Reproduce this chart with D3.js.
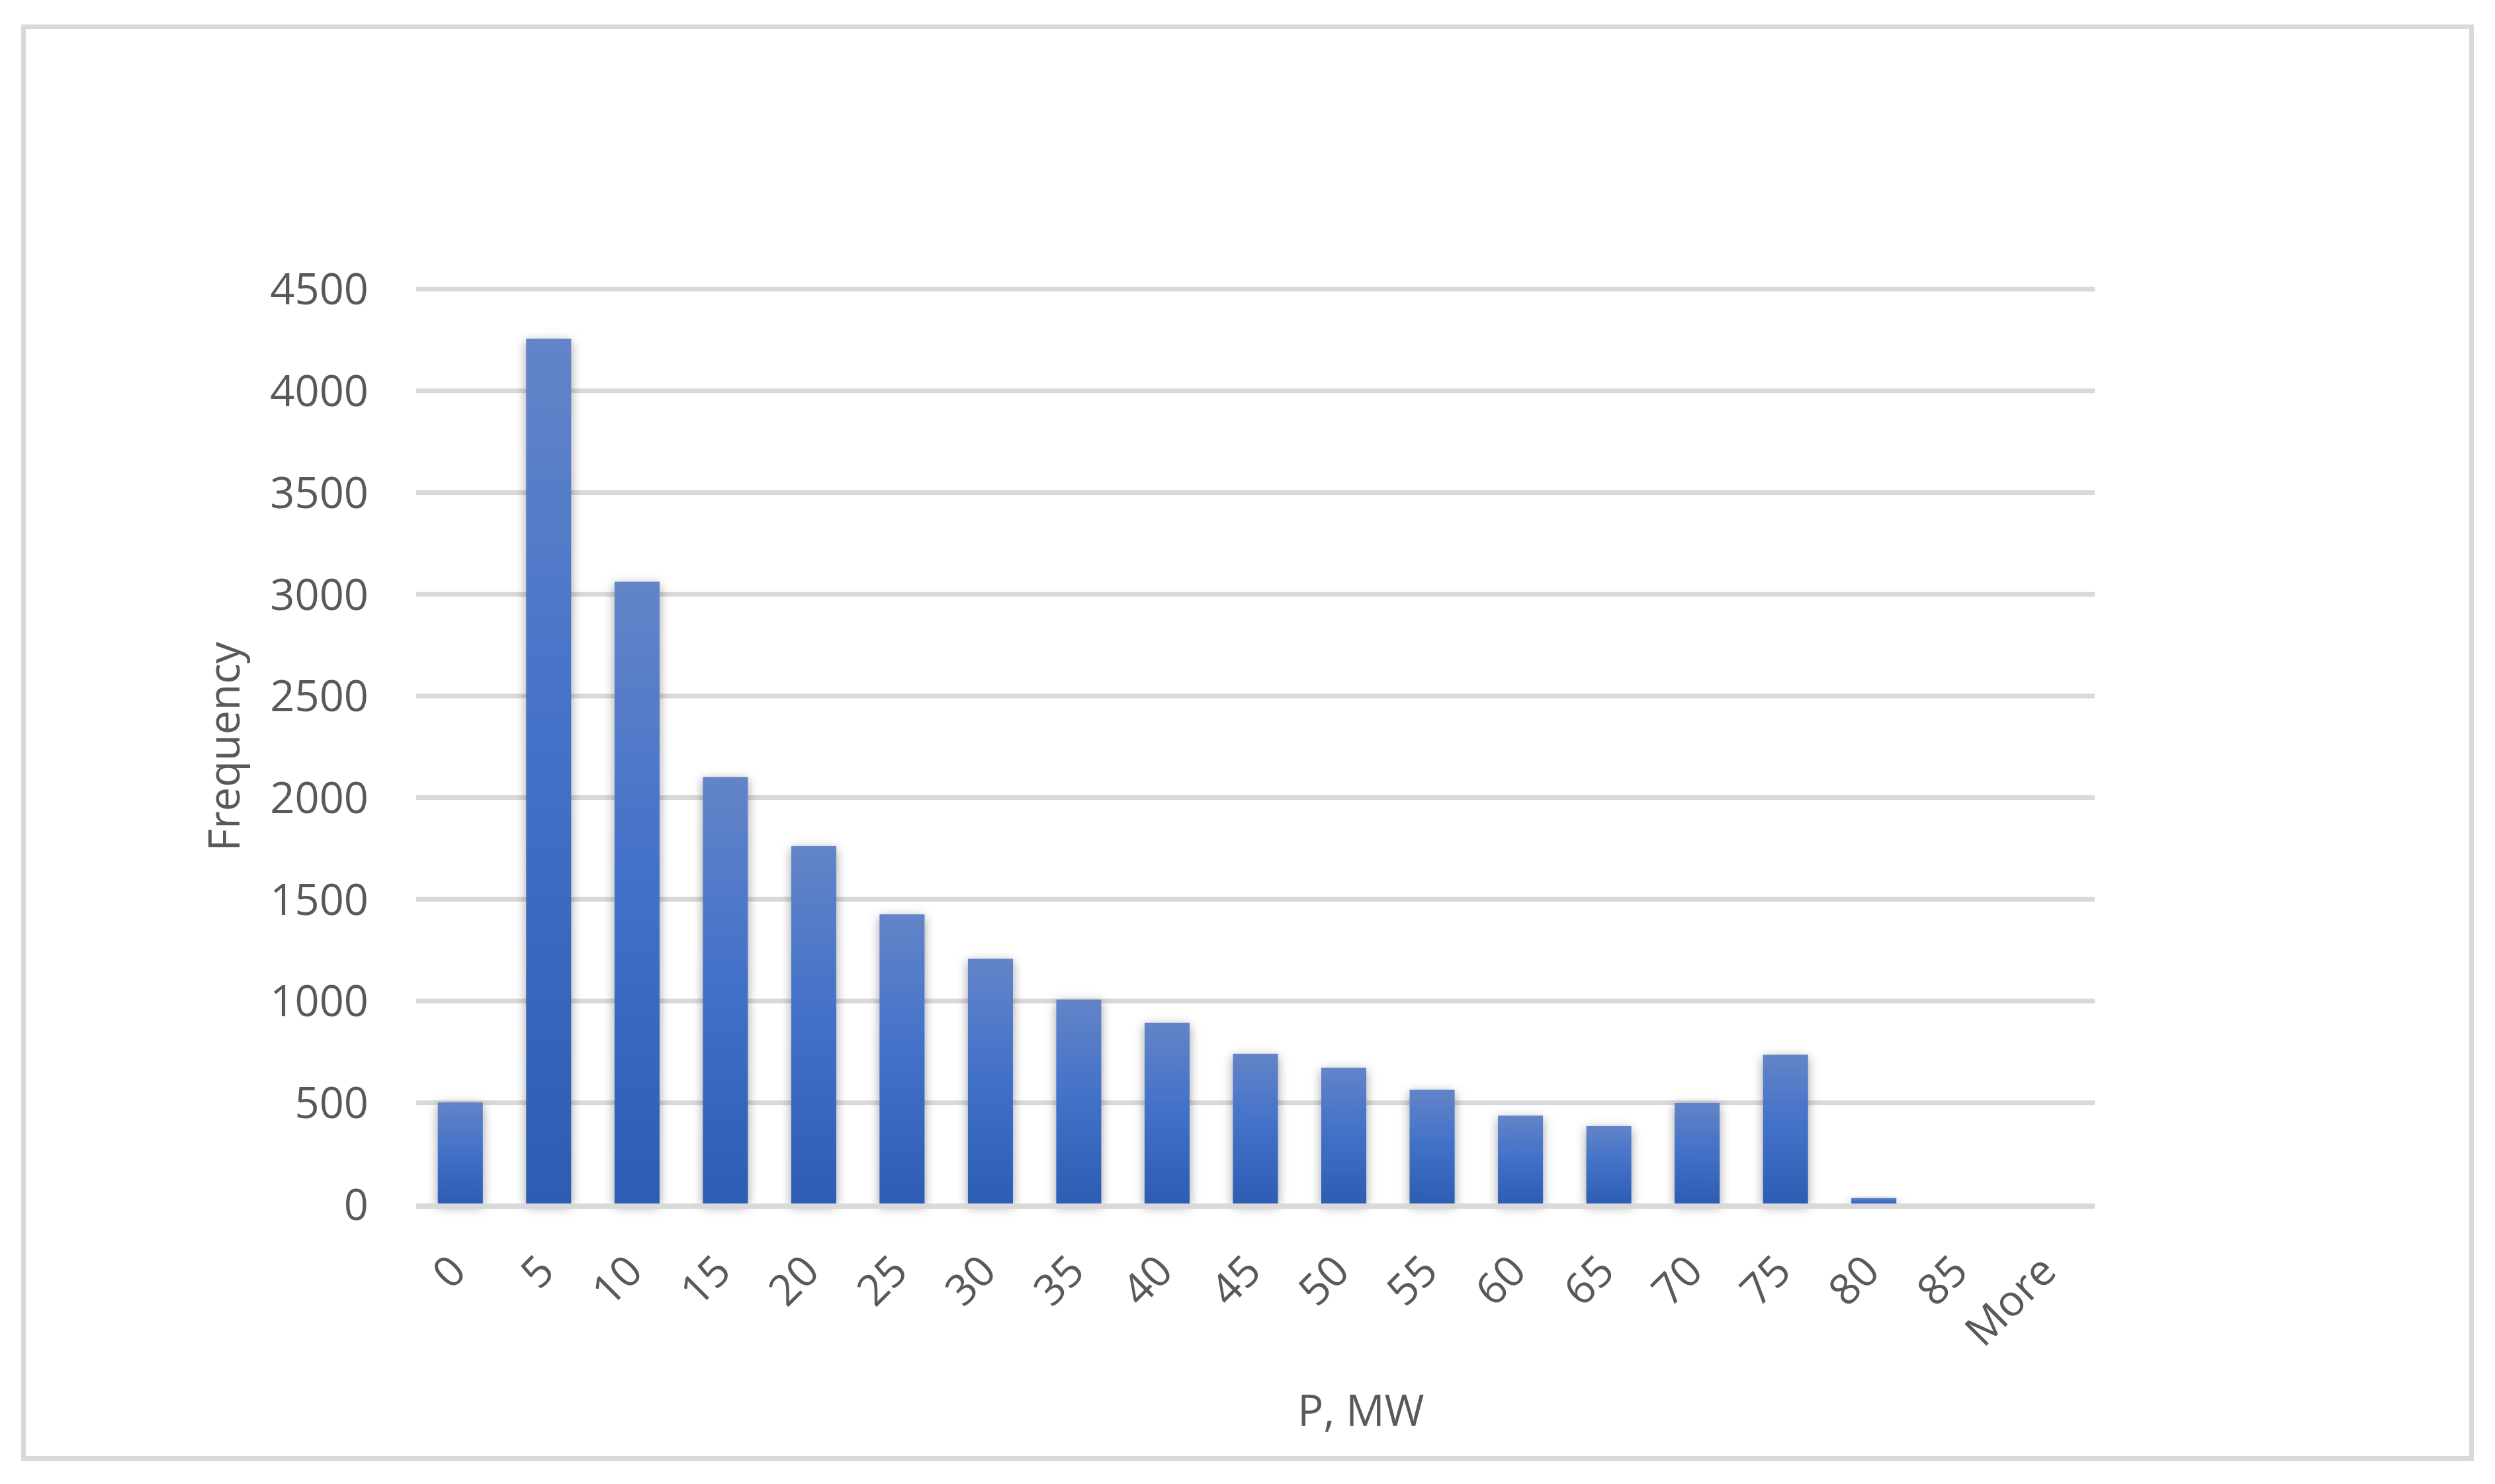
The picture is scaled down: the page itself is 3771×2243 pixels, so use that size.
<!DOCTYPE html>
<html>
<head>
<meta charset="utf-8">
<script src="https://cdn.jsdelivr.net/npm/d3@7"></script>
<style>
  body { margin: 0; background: #fff; }
  svg { display: block; }
  text { font-family: "Open Sans", sans-serif; fill: #595959; }
</style>
</head>
<body>
<svg width="3771" height="2243"></svg>
<script>
// histogram bins and counts
const categories = ["0","5","10","15","20","25","30","35","40","45","50","55","60","65","70","75","80","85","More"];
const frequency = [500, 4255, 3060, 2100, 1760, 1425, 1207, 1006, 892, 739, 671, 563, 435, 384, 498, 735, 30, 0, 0];
const yTicks = [0, 500, 1000, 1500, 2000, 2500, 3000, 3500, 4000, 4500];

var svg = d3.select("svg")
var plotLeft = 629, plotRight = 3166, plotTop = 436.5, plotBottom = 1820

var xScale = d3.scaleBand().domain(categories).range([plotLeft, plotRight])
  .paddingInner(0.49).paddingOuter(0.245)
var yScale = d3.scaleLinear().domain([0, 4500]).range([plotBottom, plotTop])

// chart frame
svg.append("rect")
  .attr("x", 35.5).attr("y", 40.5)
  .attr("width", 3700).attr("height", 2164)
  .attr("fill", "#fff").attr("stroke", "#d9d9d9").attr("stroke-width", 7)

var defs = svg.append("defs")
var grad = defs.append("linearGradient").attr("id", "barFill")
  .attr("x1", 0).attr("y1", 0).attr("x2", 0).attr("y2", 1)
grad.append("stop").attr("offset", "0%").attr("stop-color", "#6384c8")
grad.append("stop").attr("offset", "45%").attr("stop-color", "#4472c9")
grad.append("stop").attr("offset", "100%").attr("stop-color", "#2c5db3")

var shadow = defs.append("filter").attr("id", "shadow")
  .attr("x", "-50%").attr("y", "-20%").attr("width", "200%").attr("height", "140%")
shadow.append("feDropShadow")
  .attr("dx", 0).attr("dy", 4).attr("stdDeviation", 8)
  .attr("flood-color", "#000").attr("flood-opacity", 0.38)

// gridlines
var grid = d3.axisLeft(yScale).tickValues(yTicks.slice(1)).tickSize(-(plotRight - plotLeft)).tickFormat("")
svg.append("g").attr("id", "grid")
  .attr("transform", "translate(" + plotLeft + ",0)")
  .call(grid)
  .call(g => g.select(".domain").remove())
  .selectAll("line").attr("stroke", "#d9d9d9").attr("stroke-width", 7)

// bars
svg.append("g").attr("id", "bars")
  .selectAll("rect")
  .data(frequency)
  .enter()
  .append("rect")
  .attr("x", (d, i) => xScale(categories[i]))
  .attr("y", d => yScale(d))
  .attr("width", xScale.bandwidth())
  .attr("height", d => plotBottom - yScale(d))
  .attr("fill", "url(#barFill)")
  .attr("filter", d => d > 0 ? "url(#shadow)" : null)

// x axis line
svg.append("line")
  .attr("x1", plotLeft).attr("x2", plotRight)
  .attr("y1", plotBottom + 3).attr("y2", plotBottom + 3)
  .attr("stroke", "#d9d9d9").attr("stroke-width", 8)

// y axis labels
var yAxis = d3.axisLeft(yScale).tickValues(yTicks).tickSize(0).tickPadding(0).tickFormat(d3.format("d"))
svg.append("g").attr("id", "yAxis")
  .attr("transform", "translate(557,0)")
  .call(yAxis)
  .call(g => g.select(".domain").remove())
  .selectAll("text")
  .attr("font-size", 65).attr("font-family", "Open Sans").attr("fill", "#595959")
  .attr("dy", "0.36em")

// x axis labels, rotated
svg.append("g").attr("id", "xAxis")
  .selectAll("text")
  .data(categories)
  .enter()
  .append("text")
  .attr("transform", d => "translate(" + (xScale(d) + xScale.bandwidth() / 2 + 12) + ",1925) rotate(-45)")
  .attr("text-anchor", "end")
  .attr("font-size", 65)
  .text(d => d)

// axis titles
svg.append("text")
  .attr("x", 2057).attr("y", 2155)
  .attr("text-anchor", "middle")
  .attr("font-size", 65)
  .text("P, MW")

svg.append("text")
  .attr("transform", "translate(362," + ((plotTop + plotBottom) / 2) + ") rotate(-90)")
  .attr("text-anchor", "middle")
  .attr("font-size", 65)
  .text("Frequency")
</script>
</body>
</html>
